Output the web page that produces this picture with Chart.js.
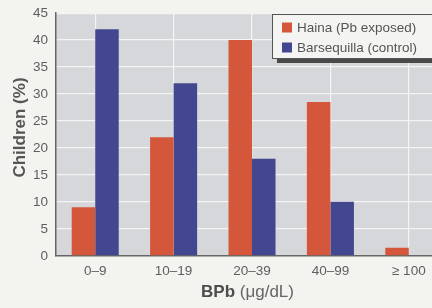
<!DOCTYPE html>
<html>
<head>
<meta charset="utf-8">
<script src="https://cdn.jsdelivr.net/npm/chart.js@4.4.1/dist/chart.umd.min.js"></script>
<style>
  html, body { margin: 0; padding: 0; background: #f3f3f0; overflow: hidden; }
  #wrap { width: 448px; height: 311px; margin-top: -3px; }
</style>
</head>
<body>
<div id="wrap"><canvas id="grafico" width="448" height="311"></canvas></div>
<script>
const categories = ['0–9', '10–19', '20–39', '40–99', '≥ 100'];
const hainaValues = [9, 22, 40, 28.5, 1.5];
const barsequillaValues = [42, 32, 18, 10, 0];
const seriesNames = ['Haina (Pb exposed)', 'Barsequilla (control)'];
const yTickMax = 45;
const yTickStep = 5;

const FONT = "'Liberation Sans', Arial, sans-serif";
const orange = '#d4573b';
const blue = '#42478f';
const dy = 3; // canvas is pulled up by 3px

// gray plot background
const plotBg = {
  id: 'plotBg',
  beforeDraw(chart) {
    const { ctx, chartArea: a } = chart;
    ctx.save();
    ctx.fillStyle = '#d6d7da';
    ctx.fillRect(a.left, a.top, a.right - a.left, a.bottom - a.top);
    ctx.restore();
  }
};

// legend box, axis titles
const extras = {
  id: 'extras',
  afterDraw(chart) {
    const ctx = chart.ctx;
    ctx.save();
    ctx.translate(0, dy);
    // legend shadow and box
    ctx.fillStyle = '#4a4a48';
    ctx.fillRect(277, 57, 180, 6);
    ctx.fillStyle = '#f4f4f2';
    ctx.fillRect(272.5, 14.5, 180, 44);
    ctx.strokeStyle = '#555';
    ctx.lineWidth = 1;
    ctx.strokeRect(272.5, 14.5, 180, 44);
    ctx.font = '13.5px ' + FONT;
    ctx.textBaseline = 'middle';
    chart.data.datasets.forEach((ds, i) => {
      const y = 27.5 + i * 20;
      ctx.fillStyle = ds.backgroundColor;
      ctx.fillRect(282, y - 5, 10, 10);
      ctx.fillStyle = '#555';
      ctx.fillText(ds.label, 297, y + 0.5);
    });
    ctx.textBaseline = 'alphabetic';
    // x title
    const bold = 'bold 17px ' + FONT;
    const norm = '17px ' + FONT;
    const p1 = 'BPb', p2 = ' (μg/dL)';
    ctx.font = bold; const w1 = ctx.measureText(p1).width;
    ctx.font = norm; const w2 = ctx.measureText(p2).width;
    const x = 247.5 - (w1 + w2) / 2;
    ctx.fillStyle = '#4d4d4d';
    ctx.font = bold; ctx.fillText(p1, x, 297);
    ctx.font = norm; ctx.fillStyle = '#666'; ctx.fillText(p2, x + w1, 297);
    // y title
    ctx.translate(25, 127.5);
    ctx.rotate(-Math.PI / 2);
    ctx.textAlign = 'center';
    ctx.font = bold;
    ctx.fillStyle = '#555';
    ctx.fillText('Children (%)', 0, 0);
    ctx.restore();
  }
};

new Chart(document.getElementById('grafico'), {
  type: 'bar',
  data: {
    labels: categories,
    datasets: [
      { label: seriesNames[0], data: hainaValues, backgroundColor: orange },
      { label: seriesNames[1], data: barsequillaValues, backgroundColor: blue }
    ]
  },
  options: {
    responsive: false,
    animation: false,
    layout: { padding: { top: 0, right: 0, bottom: 22, left: 25 } },
    plugins: { legend: { display: false }, tooltip: { enabled: false } },
    datasets: { bar: { categoryPercentage: 0.6, barPercentage: 1 } },
    scales: {
      x: {
        grid: { color: '#f4f4f4', lineWidth: 1.2, offset: false, drawTicks: false },
        border: { color: '#666', width: 1.5 },
        ticks: { color: '#5e5e5e', font: { family: FONT, size: 13.5 }, padding: 7 }
      },
      y: {
        min: 0, max: yTickMax,
        grid: { color: '#f4f4f4', lineWidth: 1.2, drawTicks: false },
        border: { color: '#666', width: 1.5 },
        ticks: { stepSize: yTickStep, color: '#5e5e5e', font: { family: FONT, size: 13.5 }, padding: 8 }
      }
    }
  },
  plugins: [plotBg, extras]
});
</script>
</body>
</html>
